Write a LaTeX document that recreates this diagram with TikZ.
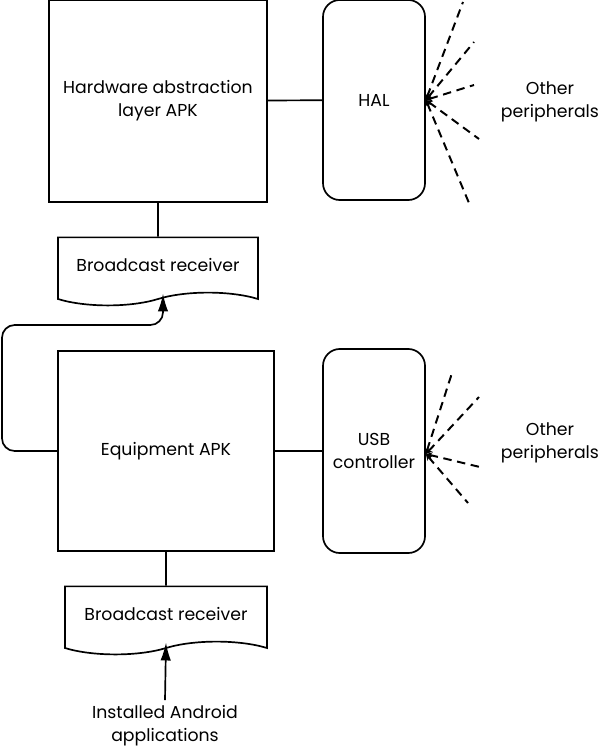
\documentclass[tikz,border=0pt]{standalone}
\usepackage{fontspec}
\setmainfont{Poppins}
\usetikzlibrary{arrows.meta}
\usetikzlibrary{shapes.symbols}
\tikzset{>={Latex[length=4.5mm,width=2.6mm]}}
\tikzset{apkbox/.style={draw, line width=1.2pt, align=center, inner sep=0pt},
    devbox/.style={draw, line width=1.2pt, rounded corners=12pt, align=center,
        minimum width=2.55cm, minimum height=5cm},
    receiver/.style={draw, line width=1.2pt, tape, tape bend top=none,
        tape bend height=0.32cm, minimum width=5cm, minimum height=1.7cm},
    ray/.style={dashed, dash pattern=on 6pt off 4pt, line width=1.4pt,
        {Stealth[length=1.6mm,width=1.6mm]}-},
    lbl/.style={align=center}}

\begin{document}
\begin{tikzpicture}[x=0.025cm, y=-0.025cm, font=\fontsize{12.3}{16.5}\selectfont,
    line width=1.2pt]
\useasboundingbox (0,0) rectangle (600,750);
    %upper half
    \node[apkbox, minimum width=5.45cm, minimum height=5.05cm] (hwapk) at (158,101)
        {Hardware abstraction\\layer APK};
    \node[devbox] (hal) at (374,100) {HAL};
    \node[receiver] (br1) at (158,265) {Broadcast receiver};
    \node[lbl] (oth1) at (550,102) {Other\\peripherals};
    %lower half
    \node[apkbox, minimum width=5.4cm, minimum height=5cm] (eqapk) at (166,451)
        {Equipment APK};
    \node[devbox, minimum height=5.1cm] (usb) at (374,451) {USB\\controller};
    \node[receiver, minimum width=5.05cm] (br2) at (166,614) {Broadcast receiver};
    \node[lbl] (oth2) at (550,443) {Other\\peripherals};
    \node[lbl] (apps) at (165,726) {Installed Android\\applications};
    %ray ends
    \coordinate (a1) at (463,2);
    \coordinate (a2) at (474,42);
    \coordinate (a3) at (474,85);
    \coordinate (a4) at (479,139);
    \coordinate (a5) at (469,203);
    \coordinate (b1) at (452,373);
    \coordinate (b2) at (479,397);
    \coordinate (b3) at (484,468);
    \coordinate (b4) at (468,503);
    %links
    \draw (hwapk) -- (hal);
    \draw (hwapk) -- (br1);
    \draw (eqapk) -- (usb);
    \draw (eqapk) -- (br2);
    \draw[->, rounded corners=9pt] (eqapk.west) -- (2,451) -- (2,325) -- (163,325)
        -- ([xshift=0.125cm]br1.south);
    \draw[->] (apps.north) -- (br2.south);
    %peripherals
    \foreach \p in {a1,a2,a3,a4,a5}
        \draw[ray] (hal.east) -- (\p);
    \foreach \p in {b1,b2,b3,b4}
        \draw[ray] ([yshift=-0.075cm]usb.east) -- (\p);
\end{tikzpicture}
\end{document}
